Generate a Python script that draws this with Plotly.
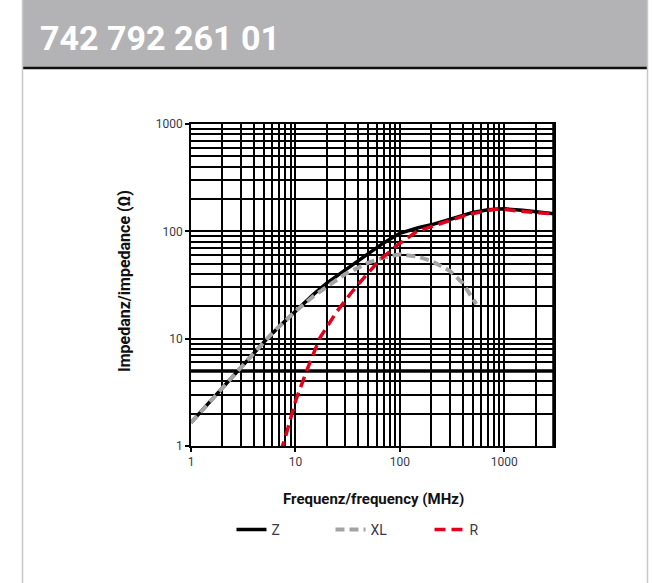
import math
import plotly.graph_objects as go

# ---------------- data ----------------
z_freq = [1, 2, 3, 5, 7, 10, 15, 20, 30, 50, 70, 100, 150, 200, 300, 500, 700, 1000, 1500, 2000, 3000]
z_vals = [1.65, 3.5, 5.4, 9.3, 13, 18, 26, 33, 44, 62, 78, 96, 108, 115, 129, 150, 159, 162, 157, 152, 146]

xl_freq = [1, 2, 3, 5, 7, 10, 15, 20, 30, 50, 70, 100, 150, 200, 300, 400, 500, 540]
xl_vals = [1.65, 3.5, 5.4, 9.3, 13, 18, 25, 30.5, 40, 51, 57, 61, 58, 53, 43, 33, 24, 21]

r_freq = [7.2, 8, 10, 12.8, 17, 25, 34, 41, 64, 94, 146, 207, 300, 437, 700, 908, 1320, 2000, 3000]
r_vals = [0.88, 1.2, 2.6, 5, 10, 18, 26.5, 33, 54, 74, 100, 112, 127, 142, 157, 162, 155, 150, 145]

x_ticks = [1, 10, 100, 1000]
y_ticks = [1, 10, 100, 1000]
title_text = "742 792 261 01"
x_title = "Frequenz/frequency (MHz)"
y_title = "Impedanz/impedance (Ω)"

# ---------------- layout geometry ----------------
W, H = 654, 583
L, R, T, B = 191, 100, 124, 137
PW, PH = W - L - R, H - T - B


def px(xp):
    return (xp - L) / PW


def py(yp):
    return (H - B - yp) / PH


FONT = "Roboto, Liberation Sans, sans-serif"

fig = go.Figure()
fig.add_trace(go.Scatter(x=z_freq, y=z_vals, mode="lines", name="Z",
                         line=dict(color="black", width=3.5)))
fig.add_trace(go.Scatter(x=xl_freq, y=xl_vals, mode="lines", name="XL",
                         line=dict(color="#a3a3a3", width=4, dash="9px,5px")))
fig.add_trace(go.Scatter(x=r_freq, y=r_vals, mode="lines", name="R",
                         line=dict(color="#e2001a", width=3.5, dash="11px,6px")))


def minor_vals(lo, hi):
    vals = []
    d = 1
    while d <= hi:
        for k in range(2, 10):
            v = k * d
            if lo < v < hi:
                vals.append(v)
        d *= 10
    return vals


axis_common = dict(
    type="log", showline=True, linecolor="black", linewidth=1.8, mirror=True,
    showgrid=True, gridcolor="black", gridwidth=1.8,
    ticks="outside", ticklen=4, tickwidth=1.5, tickcolor="black",
    tickfont=dict(family=FONT, size=12, color="#3a3a4a"), zeroline=False,
)

fig.update_xaxes(range=[0, math.log10(3000)], tickvals=x_ticks,
                 ticktext=[str(v) for v in x_ticks],
                 minor=dict(tickvals=minor_vals(1, 3000), showgrid=True,
                            gridcolor="black", gridwidth=1.8, ticks=""),
                 **axis_common)
fig.update_yaxes(range=[0, 3], tickvals=y_ticks,
                 ticktext=[str(v) for v in y_ticks],
                 minor=dict(tickvals=minor_vals(1, 1000), showgrid=True,
                            gridcolor="black", gridwidth=1.8, ticks=""),
                 **axis_common)

shapes = [
    # header band
    dict(type="rect", xref="paper", yref="paper", x0=px(22), x1=px(648), y0=py(67), y1=py(-2),
         fillcolor="#b3b3b5", line=dict(width=0), layer="below"),
    dict(type="line", xref="paper", yref="paper", x0=px(22), x1=px(648), y0=py(68), y1=py(68),
         line=dict(color="#111", width=2.5)),
    # frame sides
    dict(type="line", xref="paper", yref="paper", x0=px(22.5), x1=px(22.5), y0=py(0), y1=py(590),
         line=dict(color="#c8c8c8", width=1.5)),
    dict(type="line", xref="paper", yref="paper", x0=px(647.5), x1=px(647.5), y0=py(0), y1=py(590),
         line=dict(color="#c8c8c8", width=1.5)),
    # thick horizontal grid line at 5
    dict(type="line", xref="x domain", yref="y", x0=0, x1=1, y0=5, y1=5,
         line=dict(color="black", width=3.5), layer="below"),
    # thick right border
    dict(type="line", xref="x domain", yref="y domain", x0=1, x1=1, y0=0, y1=1,
         line=dict(color="black", width=3.5)),
]

annotations = [
    dict(text=title_text, xref="paper", yref="paper", x=px(38), y=py(38),
         xanchor="left", yanchor="middle", showarrow=False,
         font=dict(family=FONT, size=34, color="white", weight="bold")),
    dict(text=x_title, xref="paper", yref="paper", x=px(373), y=py(499),
         xanchor="center", yanchor="middle", showarrow=False,
         font=dict(family=FONT, size=15, color="#111", weight="bold")),
    dict(text=y_title, xref="paper", yref="paper", x=px(124), y=py(281),
         xanchor="center", yanchor="middle", showarrow=False, textangle=-90,
         font=dict(family=FONT, size=16, color="#111", weight="bold")),
]

fig.update_layout(
    width=W, height=H,
    margin=dict(l=L, r=R, t=T, b=B),
    paper_bgcolor="white", plot_bgcolor="white",
    shapes=shapes, annotations=annotations,
    showlegend=True,
    legend=dict(orientation="h", x=px(380), xanchor="center", y=py(530), yanchor="middle",
                font=dict(family=FONT, size=14, color="#3a3a4a"),
                itemwidth=30, entrywidth=54, entrywidthmode="pixels",
                bgcolor="rgba(0,0,0,0)", tracegroupgap=0),
)

fig.write_html("out.html")
